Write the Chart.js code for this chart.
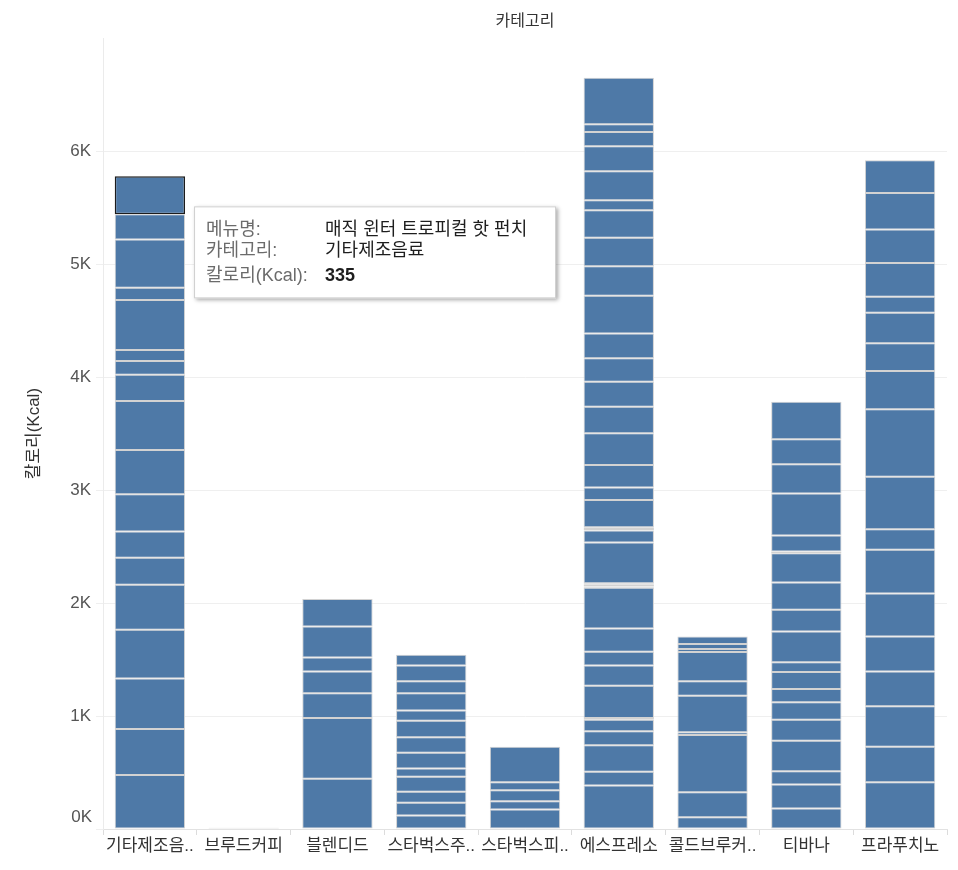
<!DOCTYPE html>
<html>
<head>
<meta charset="utf-8">
<script src="https://cdn.jsdelivr.net/npm/chart.js@4.4.1/dist/chart.umd.min.js"></script>
<style>
html,body{margin:0;padding:0;background:#fff;}
#wrap{width:958px;height:870px;position:relative;}
</style>
</head>
<body>
<div id="wrap"><canvas id="c"></canvas></div>
<script>
// Categories and axis labels
const categories = ['기타제조음료','브루드커피','블렌디드','스타벅스주스','스타벅스피지오','에스프레소','콜드브루커피','티바나','프라푸치노'];
const tickLabels = ['기타제조음..','브루드커피','블렌디드','스타벅스주..','스타벅스피..','에스프레소','콜드브루커..','티바나','프라푸치노'];
const yTickValues = [0,1000,2000,3000,4000,5000,6000];
const yTickLabels = ['0K','1K','2K','3K','4K','5K','6K'];

// Calories (Kcal) of each menu item, stacked bottom -> top, per category
const segOther    = [479,407,447,431,398,238,233,331,391,434,232,121,98,442,108,428,224,335];
const segBrewed   = [5,5];
const segBlended  = [444,539,218,194,124,274,242];
const segJuice    = [119,113,97,133,73,139,138,147,89,153,106,141,95];
const segFizzio   = [172,74,97,71,313];
const segEspresso = [385,121,235,124,103,14,287,179,121,206,360,12,14,14,361,107,13,14,243,109,201,280,235,221,207,221,333,262,251,244,89,256,221,127,68,413];
const segColdBrew = [104,221,507,24,324,127,260,26,44,68];
const segTeavana  = [181,212,118,271,186,153,119,150,85,274,192,241,259,15,142,371,260,221,333];
const segFrapp    = [414,313,359,309,310,380,386,183,465,596,339,245,270,142,300,296,323,290];

// Highlighted item (tooltip)
const tipLabels = ['메뉴명:','카테고리:','칼로리(Kcal):'];
const tipValues = ['매직 윈터 트로피컬 핫 펀치','기타제조음료','335'];
const hlCategory = 0;
const hlSegment = 17;

const segLists = [segOther,segBrewed,segBlended,segJuice,segFizzio,segEspresso,segColdBrew,segTeavana,segFrapp];
const maxLen = Math.max(...segLists.map(s=>s.length));
const datasets = [];
for (let j=0;j<maxLen;j++){
  datasets.push({
    label:'item'+(j+1),
    data: segLists.map(s => (j < s.length ? s[j] : null)),
    backgroundColor:'#4e79a7',
    borderColor: ctx => (ctx.datasetIndex===hlSegment && ctx.dataIndex===hlCategory) ? '#1c1c1c' : '#d2d2d2',
    borderWidth: ctx => (ctx.datasetIndex===hlSegment && ctx.dataIndex===hlCategory) ? 1.5 : 1,
    borderSkipped:false,
    barPercentage:0.75,
    categoryPercentage:1.0
  });
}

const FONT = "'Liberation Sans','Noto Sans CJK KR',sans-serif";

const extras = {
  id:'extras',
  afterDraw(chart){
    const ctx = chart.ctx;
    const y = chart.scales.y;
    // 0K label, lifted above the axis line
    ctx.save();
    ctx.font = '17px '+FONT;
    ctx.fillStyle = '#555';
    ctx.textAlign = 'right';
    ctx.textBaseline = 'middle';
    ctx.fillText(yTickLabels[0], y.right - 11, y.getPixelForValue(yTickValues[0]) - 12);
    ctx.restore();

    // tooltip box next to highlighted element
    const el = chart.getDatasetMeta(hlSegment).data[hlCategory];
    const bx = el.x + el.width/2 + 9;
    const by = el.y + 30;
    const bw = 362, bh = 92;
    ctx.save();
    ctx.shadowColor = 'rgba(0,0,0,0.35)';
    ctx.shadowBlur = 4;
    ctx.shadowOffsetX = 2;
    ctx.shadowOffsetY = 2;
    ctx.fillStyle = '#fff';
    ctx.fillRect(bx, by, bw, bh);
    ctx.restore();
    ctx.save();
    ctx.strokeStyle = '#cfcfcf';
    ctx.lineWidth = 1;
    ctx.strokeRect(bx+0.5, by+0.5, bw-1, bh-1);
    ctx.textBaseline = 'middle';
    ctx.textAlign = 'left';
    const rows = [24, 45, 70];
    for (let i=0;i<3;i++){
      ctx.font = '18px '+FONT;
      ctx.fillStyle = '#6b6b6b';
      ctx.fillText(tipLabels[i], bx+12, by+rows[i]);
      ctx.font = (i===2 ? 'bold 18px ' : '18px ')+FONT;
      ctx.fillStyle = '#1e1e1e';
      ctx.fillText(tipValues[i], bx+131, by+rows[i]);
    }
    ctx.restore();
  }
};

new Chart(document.getElementById('c'), {
  type:'bar',
  data:{ labels: tickLabels, datasets },
  options:{
    responsive:true,
    maintainAspectRatio:false,
    animation:false,
    events:[],
    layout:{ padding:{ left:0, right:11, top:0, bottom:0 } },
    plugins:{
      legend:{ display:false },
      tooltip:{ enabled:false },
      title:{
        display:true, text:'카테고리', fullSize:false,
        color:'#333', font:{ family:FONT, size:16, weight:'normal' },
        padding:{ top:12, bottom:7 }
      }
    },
    scales:{
      x:{
        stacked:true,
        afterFit: s => { s.height = 41; },
        grid:{ offset:true, drawOnChartArea:false, tickLength:6, color:'#dcdcdc' },
        border:{ color:'#e2e2e2' },
        ticks:{ color:'#333', font:{ family:FONT, size:17 }, padding:1, maxRotation:0, autoSkip:false }
      },
      y:{
        stacked:true,
        min:0, max:7000,
        afterFit: s => { s.width = 103; },
        afterBuildTicks: s => { s.ticks = yTickValues.concat([7000]).map(v => ({value:v})); },
        grid:{ color: c => (c.tick && c.tick.value===7000) ? 'rgba(0,0,0,0)' : '#efefef', tickLength:7 },
        border:{ color:'#ebebeb' },
        ticks:{
          color:'#555', font:{ family:FONT, size:17 }, padding:5,
          callback: v => { const i = yTickValues.indexOf(v); return (i>0) ? yTickLabels[i] : ''; }
        },
        title:{ display:true, text:'칼로리(Kcal)', color:'#333', font:{ family:FONT, size:17 }, padding:{ top:24, bottom:0 } }
      }
    }
  },
  plugins:[extras]
});
</script>
</body>
</html>
